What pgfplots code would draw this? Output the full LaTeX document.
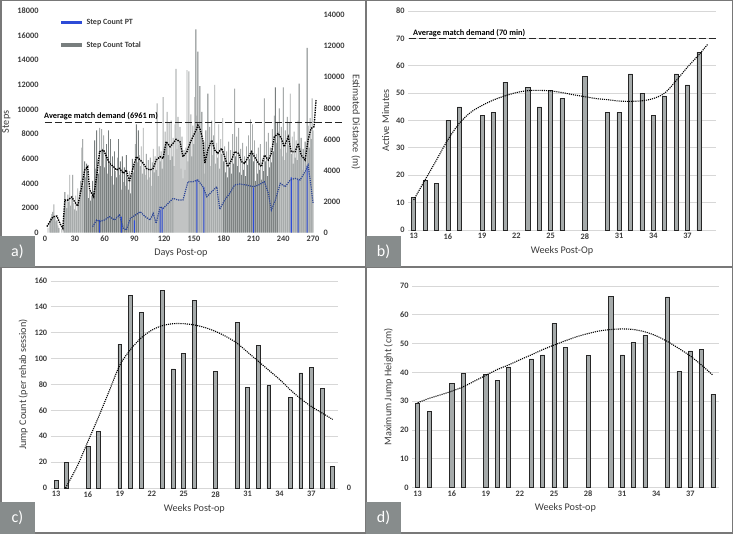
\documentclass[border=0pt]{standalone}
\usepackage{fontspec}
\setmainfont{Carlito}
\usepackage{pgfplots}
\pgfplotsset{compat=1.18}
\definecolor{barDark}{RGB}{120,126,126}
\definecolor{barLight}{RGB}{168,172,172}
\definecolor{ptBlue}{RGB}{45,75,215}
\definecolor{blueDot}{RGB}{45,70,150}
\definecolor{frameGray}{RGB}{120,120,120}
\definecolor{gridGray}{RGB}{215,215,215}
\definecolor{txt}{RGB}{60,60,60}
\definecolor{labGray}{RGB}{135,140,140}
\definecolor{wkBar}{RGB}{165,170,170}
\pgfplotsset{
  panel/.style={
    scale only axis,
    axis line style={draw=none},
    major tick length=0pt,
    tick label style={font=\fontsize{8.3}{10}\selectfont\bfseries, text=txt},
    label style={font=\fontsize{10.2}{12}\selectfont, text=txt},
    /pgf/number format/assume math mode=true,
    /pgf/number format/1000 sep={},
    scaled y ticks=false,
    clip=false,
  },
  weeks/.style={
    panel,
    axis x line*=bottom, axis y line*=left,
    xmin=12.5, xmax=39.5,
    xtick={13,16,...,37},
    ymin=0,
    ymajorgrids,
    grid style={gridGray, line width=0.8pt},
    xlabel={Weeks Post-op},
  },
  wbar/.style={ybar, bar width=0.36, bar shift=0pt, fill=wkBar, draw=black!85, line width=0.6pt},
  trend/.style={black, densely dotted, line width=1.1pt, smooth},
  avgline/.style={black!85, dash pattern=on 7pt off 3pt, line width=1.2pt},
}
\begin{document}
\begin{tikzpicture}
\useasboundingbox (0,0) rectangle (733pt,534pt);
\fill[white] (0,0) rectangle (733pt,534pt);

% ---------------- panel a ----------------
\begin{axis}[panel, at={(42pt,301.3pt)}, anchor=south west, width=278pt, height=221.7pt,
  axis x line*=bottom, axis y line*=left,
  xmin=-3, xmax=277, ymin=0, ymax=18000,
  xtick={0,30,...,270}, ytick={0,2000,...,18000},
  xlabel={Days Post-op}, ylabel={Steps}]
% total steps, even days (dark)
\addplot[ybar, bar width=0.9, bar shift=0pt, fill=barDark, draw=none] coordinates {
(6,1200)(8,1700)(10,1300)(12,1000)(14,400)(20,3300)(22,2000)(24,2500)(26,2200)(28,4700)
(30,1900)(32,1800)(34,2600)(36,4200)(38,7600)(40,5800)(42,5600)(44,2800)(46,2600)(48,4200)
(50,7500)(52,8300)(54,4800)(56,5400)(58,6800)(60,5300)(62,7200)(64,8300)(66,7600)(68,6200)
(70,6600)(72,4500)(74,7600)(76,5800)(78,6200)(80,5300)(82,6300)(84,3500)(86,3200)(88,6000)
(90,5500)(92,8800)(94,8300)(96,5400)(98,4800)(100,5200)(102,6400)(104,5900)(106,6100)(108,5700)
(110,4900)(112,5100)(114,4600)(116,5800)(118,5200)(120,6900)(122,7400)(124,6300)(126,5900)(128,6200)
(130,5400)(132,13300)(134,9400)(136,8600)(138,7800)(140,6700)(142,6900)(144,5800)(146,7400)(148,6200)
(150,7200)(152,16500)(154,14700)(156,11900)(158,9800)(160,7400)(162,8300)(164,11300)(166,8600)(168,9100)
(170,7900)(172,5600)(174,6100)(176,5200)(178,6400)(180,5800)(182,4900)(184,4500)(186,5300)(188,4800)
(190,5600)(192,6200)(194,5400)(196,4900)(198,4700)(200,5100)(202,4600)(204,5500)(206,6000)(208,6600)
(210,5800)(212,4200)(214,4800)(216,5100)(218,4300)(220,5000)(222,5800)(224,4600)(226,5300)(228,5700)
(230,6600)(232,11800)(234,9000)(236,10100)(238,8600)(240,11800)(242,8300)(244,9400)(246,8900)(248,6400)
(250,5600)(252,6100)(254,5900)(256,12100)(258,7700)(260,6800)(262,7400)(264,15000)(266,6900)(268,7600)
(270,8300)};
% total steps, odd days (light)
\addplot[ybar, bar width=0.9, bar shift=0pt, fill=barLight, draw=none] coordinates {
(3,400)(5,900)(7,1500)(9,2300)(11,900)(13,600)(17,300)(19,1500)(21,2600)(23,3100)
(25,4700)(27,2900)(29,2400)(31,3000)(33,3600)(35,3400)(37,6900)(39,3800)(41,4500)(43,5000)
(45,3300)(47,3000)(49,3400)(51,5200)(53,6000)(55,8500)(57,8400)(59,7900)(61,6400)(63,4800)
(65,5500)(67,4600)(69,3900)(71,5000)(73,6100)(75,4700)(77,3500)(79,4100)(81,3800)(83,4400)
(85,5000)(87,4600)(89,4900)(91,7200)(93,5700)(95,6300)(97,7000)(99,8500)(101,4700)(103,4300)
(105,4500)(107,3800)(109,6800)(111,6200)(113,10500)(115,7000)(117,6600)(119,11000)(121,8200)(123,9800)
(125,8900)(127,9100)(129,7700)(131,8800)(133,6800)(135,7100)(137,5200)(139,4400)(141,5100)(143,13200)
(145,13100)(147,9600)(149,8700)(151,11000)(153,9500)(155,8200)(157,7800)(159,6900)(161,4800)(163,5900)
(165,6700)(167,5400)(169,6300)(171,12000)(173,7300)(175,8800)(177,7600)(179,9300)(181,7000)(183,6600)
(185,7400)(187,6700)(189,8000)(191,11700)(193,7800)(195,8500)(197,6800)(199,7300)(201,6200)(203,7000)
(205,7900)(207,9200)(209,8800)(211,7500)(213,6400)(215,6900)(217,7200)(219,6000)(221,10900)(223,7400)
(225,8100)(227,6900)(229,8400)(231,9500)(233,7300)(235,8200)(237,6800)(239,6200)(241,5900)(243,6500)
(245,7100)(247,11300)(249,7800)(251,8200)(253,7500)(255,9100)(257,6200)(259,5100)(261,4900)(263,5500)
(265,8700)(267,9300)(269,10900)};
% PT steps
\addplot[ybar, bar width=1.1, bar shift=0pt, fill=ptBlue, draw=none] coordinates {
(55,1050)(77,1300)(90,1000)(116,1850)(118,2000)(153,4300)(160,3700)(210,3650)(248,4500)(255,4300)(264,5400)};
% moving averages
\addplot[black, densely dotted, line width=1.4pt] coordinates {
(2,500)(5,900)(8,1300)(12,1350)(15,760)(18,350)(20,2650)(23,2650)(27,2900)(30,2500)
(33,2160)(37,3730)(40,5090)(43,5360)(45,3460)(49,2920)(52,4550)(55,6580)(59,6710)(62,6170)
(65,5630)(69,5360)(72,5090)(75,5220)(79,4820)(82,5090)(85,4140)(89,5360)(92,6170)(96,5900)
(99,5630)(102,5220)(106,5090)(109,5220)(112,5900)(116,6170)(119,6035)(122,7390)(126,6980)(129,7250)
(132,7580)(136,7390)(139,6170)(143,6580)(146,7250)(149,7790)(153,8470)(154,8740)(156,8470)(159,7520)
(161,5630)(164,6710)(168,7520)(171,6710)(174,6440)(178,6850)(181,6170)(184,5360)(188,5900)(191,6580)
(195,6440)(198,5765)(201,5630)(205,6170)(208,6580)(211,6170)(215,5630)(218,5360)(221,6300)(225,5900)
(228,6440)(231,7790)(235,8065)(238,7660)(241,6980)(245,7790)(248,6580)(252,6580)(255,7250)(258,6300)
(262,5900)(265,7520)(268,8470)(271,8600)(273,10770)};
\addplot[blueDot, densely dotted, line width=1.2pt] coordinates {
(48,490)(52,1030)(55,900)(60,1030)(65,1300)(70,1030)(75,1430)(79,350)(82,220)(86,1160)
(91,1430)(96,1700)(101,1300)(106,1030)(109,1570)(112,760)(116,2110)(119,1975)(124,2380)(129,2790)
(134,2650)(139,2650)(144,4140)(149,4140)(154,4280)(159,3730)(163,2920)(168,3330)(173,3730)(176,1900)
(181,2650)(186,3190)(191,3870)(196,3950)(203,3870)(210,3730)(215,3870)(221,4140)(225,3190)(228,1840)
(232,2650)(237,4005)(242,3730)(247,4280)(252,4410)(257,4280)(262,4950)(265,5490)(268,3730)(270,2380)};
\addplot[avgline] coordinates {(0,8950)(300,8950)};
\end{axis}
\begin{axis}[panel, at={(42pt,301.3pt)}, anchor=south west, width=278pt, height=221.7pt,
  axis y line*=right, axis x line=none,
  xmin=-3, xmax=277, ymin=0, ymax=14260, ytick={0,2000,...,14000},
  ylabel={Estimated Distance (m)}, ylabel style={rotate=180}]
\addplot[draw=none] coordinates {(0,0)};
\end{axis}

% ---------------- panel b ----------------
\begin{axis}[weeks, at={(408pt,304pt)}, anchor=south west, width=308pt, height=219pt,
  ymax=80, ytick={0,10,...,80}, xlabel={Weeks Post-Op}, ylabel={Active Minutes}]
\addplot[wbar] coordinates {
(13,12)(14,18)(15,17)(16,40)(17,45)(19,42)(20,43)(21,54)(23,52)(24,45)(25,51)(26,48)
(28,56)(30,43)(31,43)(32,57)(33,50)(34,42)(35,49)(36,57)(37,53)(38,65)};
\addplot[trend] coordinates {
(13,11)(14,18.3)(15,25.6)(16,33)(17,39)(18,43)(19,45.5)(20,47.5)(21,49)(22,50.2)(23,50.9)
(24,51)(25,50.8)(26,50.2)(27,49.4)(28,48.7)(29,48)(30,47.6)(31,47.1)(32,47)(33,47.2)(34,48)
(35,50)(36,54.5)(37,59.5)(38,64)(38.8,68)};
\addplot[avgline] coordinates {(12.6,70)(39.5,70)};
\end{axis}

% ---------------- panel c ----------------
\begin{axis}[weeks, at={(50.7pt,46pt)}, anchor=south west, width=287.3pt, height=207pt,
  ymax=160, ytick={0,20,...,160}, ylabel={Jump Count (per rehab session)}]
\addplot[wbar] coordinates {
(13,6)(14,20)(16,32)(17,44)(19,111)(20,149)(21,136)(23,153)(24,92)(25,104)(26,145)
(28,90)(30,128)(31,78)(32,110)(33,79)(35,70)(36,89)(37,93)(38,77)(39,17)};
\addplot[trend] coordinates {
(13.9,0)(15,17)(16,36)(17,55)(18,75)(19,95)(20,107)(21,116)(22,122)(23,125.5)(24,127)
(25,127)(26,126)(27,124)(28,121)(29,117)(30,112)(31,105)(32,98)(33,91)(34,84)(35,76)
(36,69)(37,63)(38,58)(39,53)};
\end{axis}

% ---------------- panel d ----------------
\begin{axis}[weeks, at={(412pt,46.3pt)}, anchor=south west, width=306.7pt, height=201.7pt,
  ymax=70, ytick={0,10,...,70}, ylabel={Maximum Jump Height (cm)}]
\addplot[wbar] coordinates {
(13,29.4)(14,26.6)(16,36.1)(17,39.8)(19,39.2)(20,37.2)(21,41.9)(23,44.7)(24,46.1)(25,56.9)
(26,48.7)(28,45.8)(30,66.4)(31,46.1)(32,50.5)(33,52.8)(35,66.2)(36,40.3)(37,47.5)(38,48)(39,32.5)};
\addplot[trend] coordinates {
(13,29.5)(14,31)(15,32.2)(16,33.5)(17,35)(18,37)(19,39)(20,41)(21,42.6)(22,44.4)(23,46.1)
(24,47.9)(25,49.5)(26,51)(27,52.4)(28,53.5)(29,54.4)(30,54.9)(31,55.1)(32,54.9)(33,54.1)
(34,52.7)(35,50.7)(36,48.3)(37,45.7)(38,42.5)(39,39)};
\end{axis}

% ---------------- decorations ----------------
\draw[frameGray, line width=1.5pt] (0.75pt,0.75pt) rectangle (732.25pt,533.25pt);
\draw[frameGray, line width=1.5pt] (366pt,0pt) -- (366pt,534pt);
\draw[frameGray, line width=1.5pt] (0pt,267pt) -- (733pt,267pt);
\fill[labGray] (0pt,267pt) rectangle (35pt,298pt);
\fill[labGray] (366pt,267pt) rectangle (401pt,298pt);
\fill[labGray] (0pt,0pt) rectangle (35pt,32pt);
\fill[labGray] (366pt,0pt) rectangle (401pt,32pt);
\node[white, font=\fontsize{16}{18}\selectfont] at (17.5pt,282.5pt) {a)};
\node[white, font=\fontsize{16}{18}\selectfont] at (383.5pt,282.5pt) {b)};
\node[white, font=\fontsize{16}{18}\selectfont] at (17.5pt,16pt) {c)};
\node[white, font=\fontsize{16}{18}\selectfont] at (383.5pt,16pt) {d)};
% legend panel a
\fill[ptBlue] (61pt,510pt) rectangle (82pt,513pt);
\fill[barDark] (61pt,487pt) rectangle (82pt,491pt);
\node[anchor=west, text=txt, font=\fontsize{8}{9}\selectfont\bfseries] at (83pt,511.5pt) {Step Count PT};
\node[anchor=west, text=txt, font=\fontsize{8}{9}\selectfont\bfseries] at (83pt,489pt) {Step Count Total};
\node[anchor=west, text=black, font=\fontsize{8.3}{10}\selectfont\bfseries, inner sep=0pt] at (44pt,418pt) {Average match demand (6961 m)};
\node[anchor=west, text=black, font=\fontsize{8.3}{10}\selectfont\bfseries, inner sep=0pt] at (413pt,501pt) {Average match demand (70 min)};
\node[text=txt, font=\fontsize{8.3}{10}\selectfont\bfseries] at (349pt,46pt) {0};
\end{tikzpicture}
\end{document}
